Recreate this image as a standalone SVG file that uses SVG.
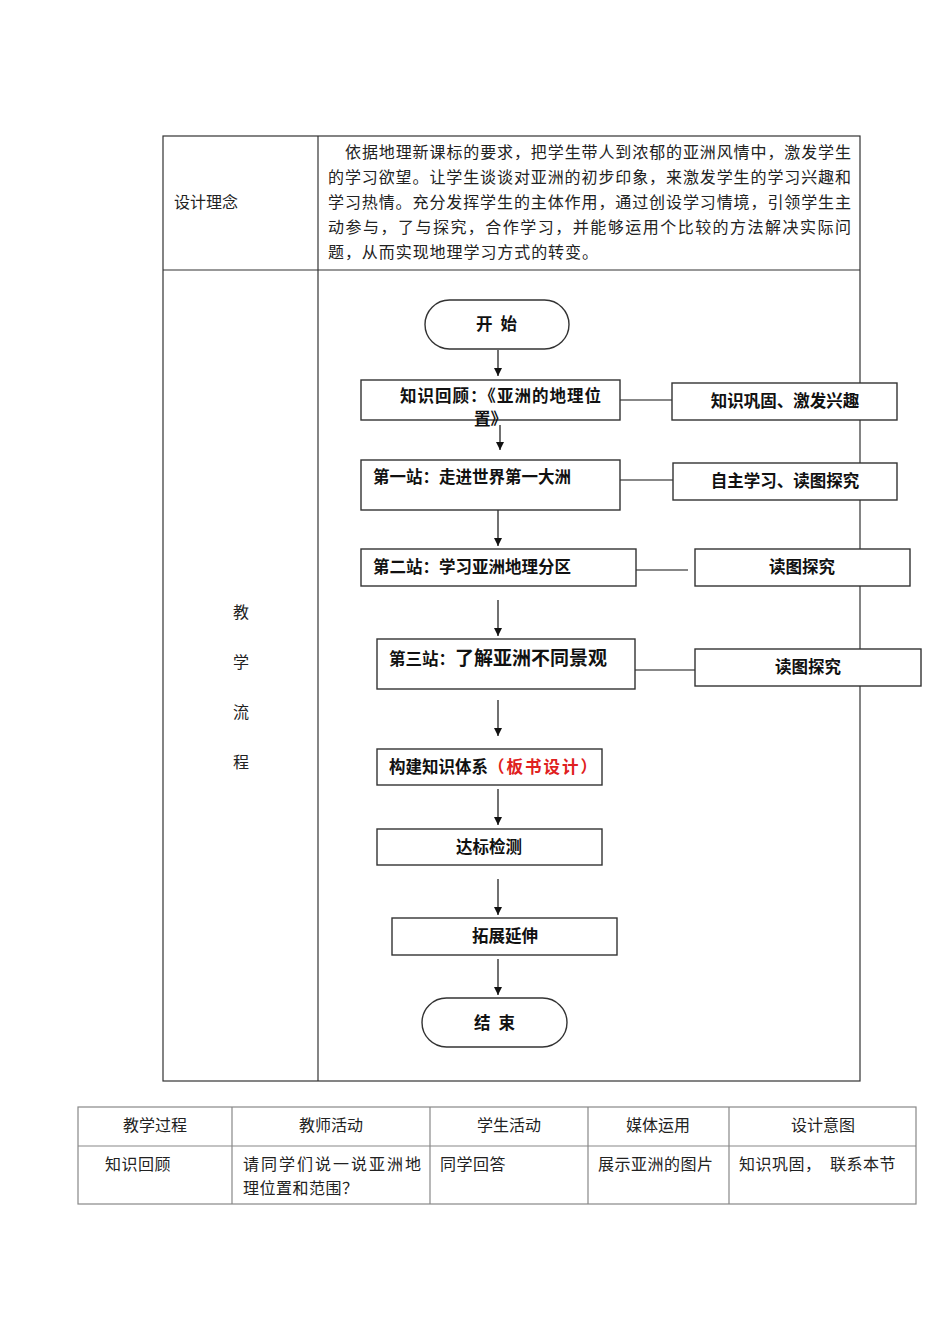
<svg xmlns="http://www.w3.org/2000/svg" width="950" height="1344" viewBox="0 0 950 1344">
<style>
.t{font-family:"Noto Sans CJK SC","Liberation Sans",sans-serif;font-size:16px;fill:#222}
.b{font-family:"Noto Sans CJK SC","Liberation Sans",sans-serif;font-size:16.5px;font-weight:bold;fill:#111}
.grid{stroke:#333;stroke-width:1.2;fill:none}
.grid2{stroke:#888;stroke-width:1.2;fill:none}
.box{fill:#fff;stroke:#333;stroke-width:1.4}
.con{stroke:#111;stroke-width:1.2;fill:none}
.arr{stroke:#111;stroke-width:1.2;fill:none;marker-end:url(#ah)}
</style>
<defs>
<marker id="ah" viewBox="0 0 10 10" refX="10" refY="5" markerWidth="8" markerHeight="10" markerUnits="userSpaceOnUse" orient="auto">
<path d="M0,0 L10,5 L0,10 z" fill="#111"/>
</marker>
</defs>
<rect width="950" height="1344" fill="#fff"/>
<g id="table-top">
<rect class="grid" x="163" y="136" width="697" height="945"/>
<line class="grid" x1="163" y1="270" x2="860" y2="270"/>
<line class="grid" x1="318" y1="136" x2="318" y2="1081"/>
<text class="t" x="174" y="208">设计理念</text>
<text class="t" x="345" y="158" textLength="506" lengthAdjust="spacing">依据地理新课标的要求，把学生带人到浓郁的亚洲风情中，激发学生</text>
<text class="t" x="328" y="183" textLength="523" lengthAdjust="spacing">的学习欲望。让学生谈谈对亚洲的初步印象，来激发学生的学习兴趣和</text>
<text class="t" x="328" y="208" textLength="523" lengthAdjust="spacing">学习热情。充分发挥学生的主体作用，通过创设学习情境，引领学生主</text>
<text class="t" x="328" y="233" textLength="523" lengthAdjust="spacing">动参与，了与探究，合作学习，并能够运用个比较的方法解决实际问</text>
<text class="t" x="328" y="258" textLength="270" lengthAdjust="spacing">题，从而实现地理学习方式的转变。</text>
<text class="t" x="241" y="618" text-anchor="middle">教</text>
<text class="t" x="241" y="668" text-anchor="middle">学</text>
<text class="t" x="241" y="718" text-anchor="middle">流</text>
<text class="t" x="241" y="768" text-anchor="middle">程</text>
</g>
<g id="connectors">
<line class="arr" x1="498" y1="350" x2="498" y2="376"/>
<line class="arr" x1="500" y1="425" x2="500" y2="450"/>
<line class="arr" x1="498" y1="510" x2="498" y2="546"/>
<line class="arr" x1="498" y1="600" x2="498" y2="636"/>
<line class="arr" x1="498" y1="700" x2="498" y2="736"/>
<line class="arr" x1="498" y1="789" x2="498" y2="825"/>
<line class="arr" x1="498" y1="879" x2="498" y2="915"/>
<line class="arr" x1="498" y1="959" x2="498" y2="995"/>
<line class="con" x1="620" y1="400" x2="672" y2="400"/>
<line class="con" x1="620" y1="480" x2="673" y2="480"/>
<line class="con" x1="636" y1="570" x2="688" y2="570"/>
<line class="con" x1="635" y1="670" x2="695" y2="670"/>
</g>
<g id="start">
<rect class="box" x="425" y="300" width="144" height="49" rx="24.5"/>
<text class="b" x="476" y="330">开<tspan dx="8">始</tspan></text>
</g>
<g id="review">
<rect class="box" x="361" y="380" width="259" height="40"/>
<text class="b" x="400" y="402" textLength="201" lengthAdjust="spacing">知识回顾：《亚洲的地理位</text>
<text class="b" x="474" y="425">置》</text>
</g>
<g id="review-goal">
<rect class="box" x="672" y="383" width="225" height="37"/>
<text class="b" x="785" y="407" text-anchor="middle">知识巩固、激发兴趣</text>
</g>
<g id="station1">
<rect class="box" x="361" y="460" width="259" height="50"/>
<text class="b" x="373" y="483">第一站：走进世界第一大洲</text>
</g>
<g id="station1-goal">
<rect class="box" x="673" y="463" width="224" height="37"/>
<text class="b" x="785" y="487" text-anchor="middle">自主学习、读图探究</text>
</g>
<g id="station2">
<rect class="box" x="361" y="549" width="275" height="37"/>
<text class="b" x="373" y="573">第二站：学习亚洲地理分区</text>
</g>
<g id="station2-goal">
<rect class="box" x="695" y="549" width="215" height="37"/>
<text class="b" x="802" y="573" text-anchor="middle">读图探究</text>
</g>
<g id="station3">
<rect class="box" x="377" y="639" width="258" height="50"/>
<text class="b" x="389" y="665">第三站：<tspan style="font-size:19px">了解亚洲不同景观</tspan></text>
</g>
<g id="station3-goal">
<rect class="box" x="695" y="649" width="226" height="37"/>
<text class="b" x="808" y="673" text-anchor="middle">读图探究</text>
</g>
<g id="build">
<rect class="box" x="377" y="749" width="225" height="36"/>
<text class="b" x="389" y="773">构建知识体系<tspan fill="#e02020" letter-spacing="2">（板书设计）</tspan></text>
</g>
<g id="test">
<rect class="box" x="377" y="829" width="225" height="36"/>
<text class="b" x="489" y="853" text-anchor="middle">达标检测</text>
</g>
<g id="extend">
<rect class="box" x="392" y="918" width="225" height="37"/>
<text class="b" x="505" y="942" text-anchor="middle">拓展延伸</text>
</g>
<g id="end">
<rect class="box" x="422" y="998" width="145" height="49" rx="24.5"/>
<text class="b" x="474" y="1029">结<tspan dx="8">束</tspan></text>
</g>
<g id="table-bottom">
<rect class="grid2" x="78" y="1107" width="838" height="97"/>
<line class="grid2" x1="78" y1="1146" x2="916" y2="1146"/>
<line class="grid2" x1="232" y1="1107" x2="232" y2="1204"/>
<line class="grid2" x1="430" y1="1107" x2="430" y2="1204"/>
<line class="grid2" x1="588" y1="1107" x2="588" y2="1204"/>
<line class="grid2" x1="729" y1="1107" x2="729" y2="1204"/>
<text class="t" x="155" y="1131" text-anchor="middle">教学过程</text>
<text class="t" x="331" y="1131" text-anchor="middle">教师活动</text>
<text class="t" x="509" y="1131" text-anchor="middle">学生活动</text>
<text class="t" x="658" y="1131" text-anchor="middle">媒体运用</text>
<text class="t" x="823" y="1131" text-anchor="middle">设计意图</text>
<text class="t" x="105" y="1170" letter-spacing="0.5">知识回顾</text>
<text class="t" x="243" y="1170" textLength="178" lengthAdjust="spacing">请同学们说一说亚洲地</text>
<text class="t" x="243" y="1194" letter-spacing="0.5">理位置和范围？</text>
<text class="t" x="440" y="1170" letter-spacing="0.5">同学回答</text>
<text class="t" x="598" y="1170" letter-spacing="0.5">展示亚洲的图片</text>
<text class="t" x="739" y="1170" letter-spacing="0.5">知识巩固，　联系本节</text>
</g>
</svg>
